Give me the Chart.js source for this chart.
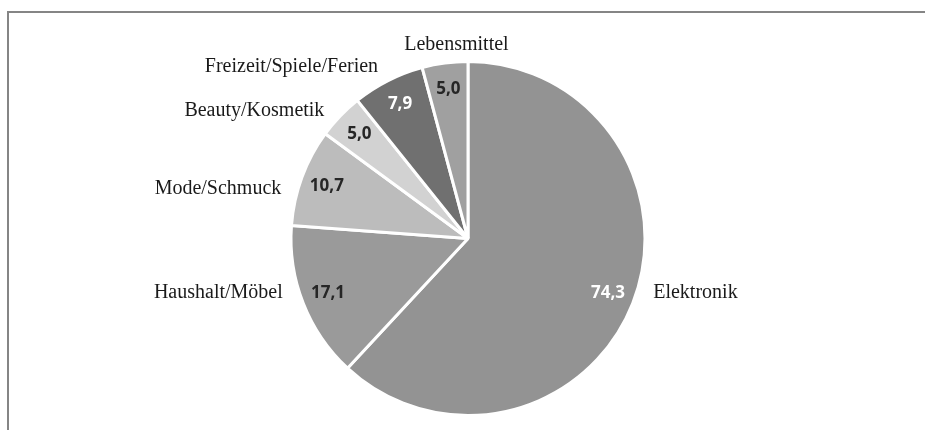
<!DOCTYPE html>
<html lang="de">
<head>
<meta charset="utf-8">
<title>Umsatz nach Warengruppen</title>
<script src="https://cdn.jsdelivr.net/npm/chart.js@4/dist/chart.umd.min.js"></script>
<style>
  html, body { margin: 0; padding: 0; background: #ffffff; }
  #wrap { position: relative; width: 925px; height: 430px; }
  canvas { display: block; }
</style>
</head>
<body>
<div id="wrap"><canvas id="chart" width="925" height="430"></canvas></div>
<script>
// Warengruppen (im Uhrzeigersinn ab 12 Uhr)
const categories = [
  'Elektronik',
  'Haushalt/Möbel',
  'Mode/Schmuck',
  'Beauty/Kosmetik',
  'Freizeit/Spiele/Ferien',
  'Lebensmittel'
];

// Werte je Warengruppe
const values = [74.3, 17.1, 10.7, 5.0, 7.9, 5.0];

// Graustufen der Segmente
const sliceColors = ['#939393', '#9a9a9a', '#bcbcbc', '#d2d2d2', '#707070', '#a0a0a0'];

// Farbe der Wertbeschriftung im Segment
const valueTextColors = ['#ffffff', '#262626', '#262626', '#262626', '#ffffff', '#262626'];

const fmt = v => v.toFixed(1).replace('.', ',');

// Rahmen um die Grafik
const framePlugin = {
  id: 'frame',
  beforeDraw(chart) {
    const ctx = chart.ctx;
    ctx.save();
    ctx.strokeStyle = '#858585';
    ctx.lineWidth = 2;
    ctx.beginPath();
    ctx.moveTo(8, chart.height + 2);
    ctx.lineTo(8, 12);
    ctx.lineTo(chart.width + 2, 12);
    ctx.stroke();
    ctx.restore();
  }
};

// Beschriftungen: Wert innen am Rand, Kategorie außerhalb
const labelPlugin = {
  id: 'sliceLabels',
  afterDatasetsDraw(chart) {
    const ctx = chart.ctx;
    const meta = chart.getDatasetMeta(0);
    ctx.save();
    meta.data.forEach((arc, i) => {
      const p = arc.getProps(['x', 'y', 'startAngle', 'endAngle', 'outerRadius'], true);
      const mid = (p.startAngle + p.endAngle) / 2;
      const c = Math.cos(mid), s = Math.sin(mid);
      const R = p.outerRadius;

      // Wert im Segment
      ctx.font = 'bold 17px "Open Sans", sans-serif';
      ctx.fillStyle = valueTextColors[i];
      ctx.textAlign = 'center';
      ctx.textBaseline = 'middle';
      ctx.fillText(fmt(values[i]), p.x + c * R * 0.85, p.y + s * R * 0.85);

      // Kategorie außerhalb
      ctx.font = '20px "Liberation Serif", "Times New Roman", serif';
      ctx.fillStyle = '#1a1a1a';
      let lx = p.x + c * (R + 22);
      const ly = p.y + s * (R + 46) - Math.sign(s) * 27;
      if (c > 0.3) ctx.textAlign = 'left';
      else if (c < -0.3) ctx.textAlign = 'right';
      else { ctx.textAlign = 'center'; lx = p.x + c * R * 0.5; }
      ctx.fillText(categories[i], lx, ly);
    });
    ctx.restore();
  }
};

new Chart(document.getElementById('chart'), {
  type: 'pie',
  data: {
    labels: categories,
    datasets: [{
      data: values,
      backgroundColor: sliceColors,
      borderColor: '#ffffff',
      borderWidth: 3
    }]
  },
  options: {
    responsive: false,
    animation: false,
    layout: { padding: { top: 60, bottom: 13, left: 289, right: 278 } },
    plugins: {
      legend: { display: false },
      tooltip: { enabled: false },
      title: { display: false }
    }
  },
  plugins: [framePlugin, labelPlugin]
});
</script>
</body>
</html>
